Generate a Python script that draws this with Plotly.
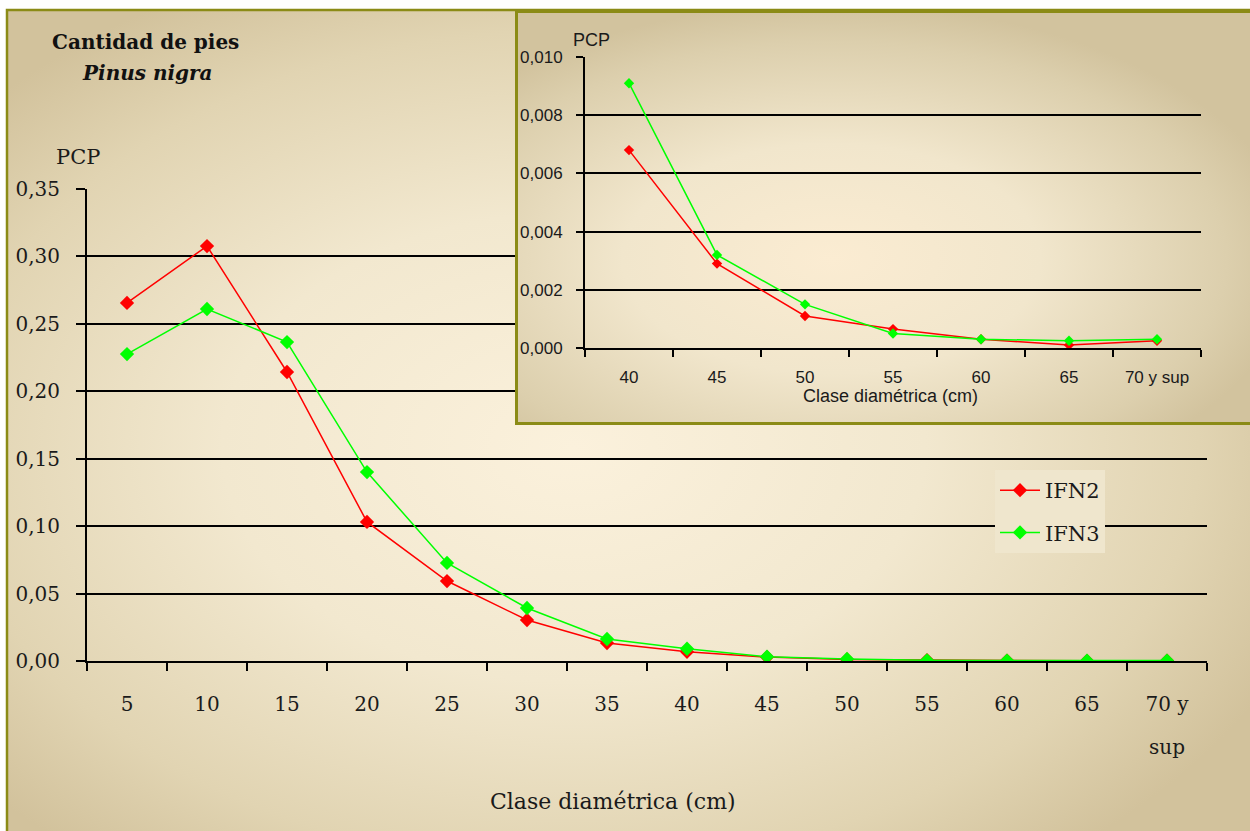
import base64
import plotly.graph_objects as go

# ---------------- data ----------------
categories = ["5", "10", "15", "20", "25", "30", "35", "40", "45", "50", "55", "60", "65", "70 y sup"]
main_tick_text = ["5", "10", "15", "20", "25", "30", "35", "40", "45", "50", "55", "60", "65", "70 y"]
ifn2 = [0.2655, 0.3077, 0.2143, 0.1031, 0.0593, 0.0304, 0.0133, 0.0068, 0.0029, 0.0011, 0.00065, 0.0003, 0.0001, 0.00025]
ifn3 = [0.2276, 0.2610, 0.2365, 0.1401, 0.0727, 0.0393, 0.0163, 0.0091, 0.0032, 0.0015, 0.0005, 0.0003, 0.00025, 0.0003]
inset_start = 7  # inset shows classes 40 .. 70 y sup

W, H = 1250, 831
RED = "#ff0000"
GREEN = "#00ff00"
SERIF = "DejaVu Serif, Liberation Serif, serif"
NARROW = "Liberation Sans Narrow, Liberation Sans, Arial, sans-serif"


def svg_uri(svg):
    return "data:image/svg+xml;base64," + base64.b64encode(svg.encode()).decode()


main_bg = f'''<svg xmlns="http://www.w3.org/2000/svg" width="{W}" height="{H}" viewBox="0 0 {W} {H}">
<defs><radialGradient id="g" cx="0.45" cy="0.52" r="0.62">
<stop offset="0" stop-color="#fbf1dc"/>
<stop offset="0.45" stop-color="#f2e8cf"/>
<stop offset="0.8" stop-color="#e1d4b2"/>
<stop offset="1" stop-color="#d2c29c"/>
</radialGradient></defs>
<rect width="{W}" height="{H}" fill="#ffffff"/>
<rect x="7" y="10" width="{W + 10}" height="{H + 10}" fill="url(#g)" stroke="#8b8b16" stroke-width="2.5"/>
</svg>'''

IW, IH = 740, 415
inset_bg = f'''<svg xmlns="http://www.w3.org/2000/svg" width="{IW}" height="{IH}" viewBox="0 0 {IW} {IH}">
<defs><radialGradient id="h" cx="0.42" cy="0.6" r="0.62">
<stop offset="0" stop-color="#fbecd2"/>
<stop offset="0.45" stop-color="#f1e6cc"/>
<stop offset="0.85" stop-color="#dccfad"/>
<stop offset="1" stop-color="#d2c39e"/>
</radialGradient></defs>
<rect x="1.5" y="1.5" width="{IW + 10}" height="{IH - 3}" fill="url(#h)" stroke="#8b8b16" stroke-width="3"/>
</svg>'''

mx0, mx1, my_bot, my_top = 87, 1207, 661, 189
ix0, ix1, iy_bot, iy_top = 585, 1201, 348, 57

fig = go.Figure()

fig.add_trace(go.Scatter(
    x=categories, y=ifn2, name="IFN2", mode="lines+markers",
    line=dict(color=RED, width=1.5), marker=dict(symbol="diamond", size=11, color=RED),
    legendgroup="a", xaxis="x", yaxis="y"))
fig.add_trace(go.Scatter(
    x=categories, y=ifn3, name="IFN3", mode="lines+markers",
    line=dict(color=GREEN, width=1.5), marker=dict(symbol="diamond", size=11, color=GREEN),
    legendgroup="b", xaxis="x", yaxis="y"))

fig.add_trace(go.Scatter(
    x=categories[inset_start:], y=ifn2[inset_start:], mode="lines+markers", showlegend=False,
    line=dict(color=RED, width=1.5), marker=dict(symbol="diamond", size=8, color=RED),
    xaxis="x2", yaxis="y2"))
fig.add_trace(go.Scatter(
    x=categories[inset_start:], y=ifn3[inset_start:], mode="lines+markers", showlegend=False,
    line=dict(color=GREEN, width=1.5), marker=dict(symbol="diamond", size=8, color=GREEN),
    xaxis="x2", yaxis="y2"))

dom_x = [mx0 / W, mx1 / W]
dom_y = [(H - my_bot) / H, (H - my_top) / H]
idom_x = [ix0 / W, ix1 / W]
idom_y = [(H - iy_bot) / H, (H - iy_top) / H]

iw = ix1 - ix0
ih = iy_bot - iy_top

fig.update_layout(
    width=W, height=H,
    margin=dict(l=0, r=0, t=0, b=0, pad=0, autoexpand=False),
    paper_bgcolor="white", plot_bgcolor="rgba(0,0,0,0)",
    separators=",.",
    font=dict(family=SERIF, color="#1a1a1a"),
    xaxis=dict(
        domain=dom_x, type="category", categoryorder="array", categoryarray=categories,
        tickmode="array", tickvals=categories, ticktext=main_tick_text,
        range=[-0.5, len(categories) - 0.5],
        tickson="boundaries", ticks="outside", ticklen=8, tickwidth=2, tickcolor="black",
        showline=True, linecolor="black", linewidth=2, showgrid=False, zeroline=False,
        tickfont=dict(family=SERIF, size=20, color="#1a1a1a"), ticklabelstandoff=24,
        anchor="y", fixedrange=True, automargin=False),
    yaxis=dict(
        domain=dom_y, range=[0, 0.35], dtick=0.05, tick0=0, tickformat=".2f",
        ticks="outside", ticklen=9, tickwidth=2, tickcolor="black",
        showline=True, linecolor="black", linewidth=2,
        showgrid=True, gridcolor="black", gridwidth=2, zeroline=False,
        tickfont=dict(family=SERIF, size=20, color="#1a1a1a"), ticklabelstandoff=12,
        anchor="x", fixedrange=True, automargin=False),
    xaxis2=dict(
        domain=idom_x, type="category", categoryorder="array", categoryarray=categories[inset_start:],
        range=[-0.5, len(categories) - inset_start - 0.5],
        tickson="boundaries", ticks="outside", ticklen=7, tickwidth=2, tickcolor="black",
        showline=True, linecolor="black", linewidth=2, showgrid=False, zeroline=False,
        tickfont=dict(family=NARROW, size=17, color="#1a1a1a"), ticklabelstandoff=13,
        anchor="y2", fixedrange=True, automargin=False),
    yaxis2=dict(
        domain=idom_y, range=[0, 0.010], dtick=0.002, tick0=0, tickformat=".3f",
        ticks="outside", ticklen=7, tickwidth=2, tickcolor="black",
        showline=True, linecolor="black", linewidth=2,
        showgrid=True, gridcolor="black", gridwidth=2, zeroline=False,
        tickfont=dict(family=NARROW, size=17, color="#1a1a1a"), ticklabelstandoff=10,
        anchor="x2", fixedrange=True, automargin=False),
    legend=dict(
        x=995 / W, y=(H - 470) / H, xanchor="left", yanchor="top",
        bgcolor="#efe6cd", borderwidth=0, tracegroupgap=12,
        font=dict(family=SERIF, size=21, color="#1a1a1a"), itemwidth=40),
    showlegend=True,
    images=[
        dict(source=svg_uri(main_bg), xref="paper", yref="paper", x=0, y=1,
             sizex=1, sizey=1, xanchor="left", yanchor="top", sizing="stretch", layer="below"),
        dict(source=svg_uri(inset_bg), xref="x2 domain", yref="y2 domain",
             x=(515 - ix0) / iw, y=(iy_bot - 10) / ih,
             sizex=IW / iw, sizey=IH / ih, xanchor="left", yanchor="top",
             sizing="stretch", layer="below"),
    ],
    annotations=[
        dict(text="<b>Cantidad de pies</b>", x=50 / W, y=(H - 42) / H, xref="paper", yref="paper",
             xanchor="left", yanchor="middle", showarrow=False,
             font=dict(family=SERIF, size=20, color="#111")),
        dict(text="<b><i>Pinus nigra</i></b>", x=80 / W, y=(H - 73) / H, xref="paper", yref="paper",
             xanchor="left", yanchor="middle", showarrow=False,
             font=dict(family=SERIF, size=20, color="#111")),
        dict(text="PCP", x=54 / W, y=(H - 157) / H, xref="paper", yref="paper",
             xanchor="left", yanchor="middle", showarrow=False,
             font=dict(family=SERIF, size=21, color="#1a1a1a")),
        # second line of the last category label
        dict(text="sup", x=categories[-1], xref="x", y=(H - 747) / H, yref="paper",
             xanchor="center", yanchor="middle", showarrow=False,
             font=dict(family=SERIF, size=20, color="#1a1a1a")),
        dict(text="Clase diamétrica (cm)", x=613 / W, y=(H - 801) / H, xref="paper", yref="paper",
             xanchor="center", yanchor="middle", showarrow=False,
             font=dict(family=SERIF, size=22, color="#1a1a1a")),
        dict(text="PCP", x=571 / W, y=(H - 40) / H, xref="paper", yref="paper",
             xanchor="left", yanchor="middle", showarrow=False,
             font=dict(family=NARROW, size=18, color="#1a1a1a")),
        dict(text="Clase diamétrica (cm)", x=890 / W, y=(H - 396) / H, xref="paper", yref="paper",
             xanchor="center", yanchor="middle", showarrow=False,
             font=dict(family=NARROW, size=18, color="#1a1a1a")),
    ],
)

post = "document.body.style.margin='0';"

fig.write_html("out.html", post_script=post, config={"displayModeBar": False})
